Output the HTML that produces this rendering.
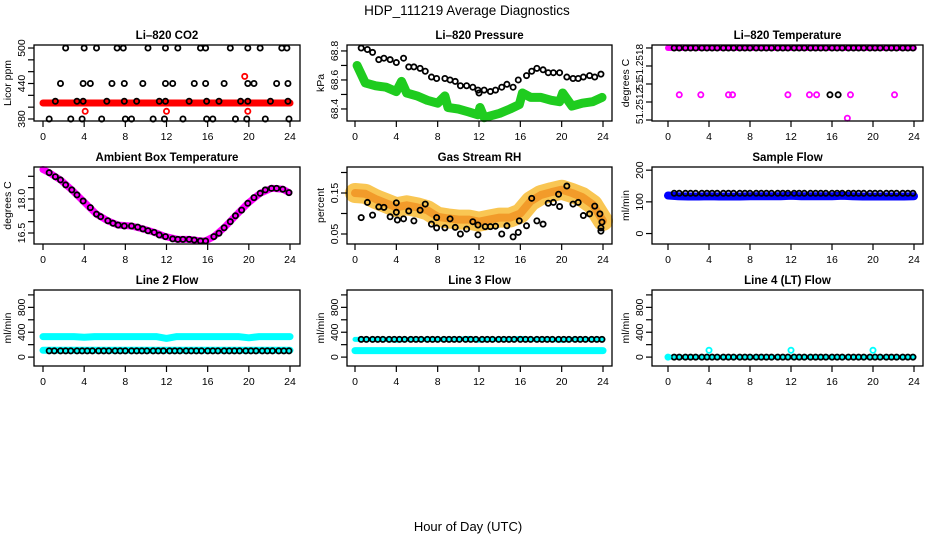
<!DOCTYPE html>
<html><head><meta charset="utf-8"><style>
html,body{margin:0;padding:0;background:#fff;}
svg{display:block;font-family:"Liberation Sans",Arial,sans-serif;}
</style></head><body>
<svg id="chart" width="936" height="540" viewBox="0 0 936 540" xmlns="http://www.w3.org/2000/svg">
<text x="467" y="15" text-anchor="middle" font-size="13.5">HDP_111219  Average Diagnostics</text>
<text x="468" y="531" text-anchor="middle" font-size="13">Hour of Day (UTC)</text>
</svg>
<script>
const xTicks = [0,4,8,12,16,20,24];
const sampleHours = [0.6,1.1,1.7,2.2,2.7,3.3,3.8,4.3,4.8,5.4,5.9,6.4,7.0,7.5,8.0,8.6,9.1,9.6,10.1,10.7,11.2,11.7,12.3,12.8,13.3,13.9,14.4,14.9,15.4,16.0,16.5,17.0,17.6,18.1,18.6,19.1,19.7,20.2,20.7,21.3,21.8,22.3,22.9,23.4,23.9];
const bandHours = [0,1,2,3,4,5,6,7,8,9,10,11,12,13,14,15,16,17,18,19,20,21,22,23,24];

// CO2
const co2Hours = [2.2,4.0,5.2,7.2,7.8,10.2,11.9,13.1,15.3,15.8,18.2,19.9,21.1,23.2,23.7, 1.7,3.9,4.6,6.7,7.9,9.7,11.9,12.6,14.7,15.8,17.6,19.9,20.5,22.7,23.8, 1.2,3.3,3.9,6.2,7.9,9.1,11.3,11.9,14.2,15.9,17.1,19.2,19.9,22.1,23.8, 0.6,2.7,3.8,5.7,8.0,8.6,10.7,11.8,13.6,15.9,16.5,18.7,19.8,21.6,23.9];
const co2Vals = [500,500,500,500,500,500,500,500,500,500,500,500,500,500,500, 440,440,440,440,440,440,440,440,440,440,440,440,440,440,440, 410,410,410,410,410,410,410,410,410,410,410,410,410,410,410, 380,380,380,380,380,380,380,380,380,380,380,380,380,380,380];
const co2BandVals = [407,407,407,407,407,407,407,407,407,407,407,407,407,407,407,407,407,407,407,407,407,407,407,407,407];
const co2OutHours = [4.1,12.0,19.6,19.9];
const co2OutVals = [393,393,452,393];

// Pressure
const presHours = [0.6,1.2,1.7,2.3,2.8,3.4,4.0,4.7,5.2,5.7,6.3,6.8,7.4,7.9,8.7,9.2,9.7,10.2,10.8,11.4,11.9,12.0,12.5,13.1,13.6,14.2,14.7,15.3,15.8,16.6,17.1,17.6,18.2,18.7,19.2,19.8,20.5,21.1,21.6,22.1,22.7,23.2,23.8];
const presVals = [68.82,68.81,68.79,68.74,68.75,68.74,68.72,68.75,68.69,68.69,68.68,68.66,68.62,68.61,68.61,68.60,68.59,68.56,68.56,68.55,68.53,68.51,68.53,68.52,68.53,68.55,68.57,68.55,68.60,68.63,68.66,68.68,68.67,68.65,68.65,68.65,68.62,68.61,68.61,68.62,68.63,68.62,68.64];
const presBandHours = [0.2,1,2,3,4,4.5,5,6,7,8,8.7,9,10,11,11.9,12.1,12.5,13,14,15,15.9,16.2,17,18,19,19.8,20.1,21,22,23,23.9];
const presBandVals = [68.70,68.58,68.56,68.55,68.52,68.59,68.51,68.49,68.46,68.44,68.49,68.41,68.40,68.38,68.36,68.41,68.34,68.35,68.37,68.40,68.43,68.51,68.48,68.48,68.46,68.45,68.51,68.42,68.44,68.45,68.48];

// Li-820 Temperature
const tempTopVals = [51.2520,51.2520,51.2520,51.2520,51.2520,51.2520,51.2520,51.2520,51.2520,51.2520,51.2520,51.2520,51.2520,51.2520,51.2520,51.2520,51.2520,51.2520,51.2520,51.2520,51.2520,51.2520,51.2520,51.2520,51.2520,51.2520,51.2520,51.2520,51.2520,51.2520,51.2520,51.2520,51.2520,51.2520,51.2520,51.2520,51.2520,51.2520,51.2520,51.2520,51.2520,51.2520,51.2520,51.2520,51.2520];
const tempOutHours = [1.1,3.2,5.9,6.3,11.7,13.8,14.5,17.8,22.1,17.5];
const tempOutVals = [51.25148,51.25148,51.25148,51.25148,51.25148,51.25148,51.25148,51.25148,51.25148,51.25122];
const tempBlackOutHours = [15.8,16.6];
const tempBlackOutVals = [51.25148,51.25148];

// Ambient box temperature
const ambHours = [0.6,1.2,1.7,2.2,2.8,3.3,3.9,4.6,5.2,5.6,6.3,6.8,7.3,7.9,8.6,9.2,9.7,10.2,10.8,11.3,11.9,12.6,13.1,13.6,14.2,14.7,15.3,15.8,16.6,17.1,17.6,18.2,18.7,19.3,19.9,20.5,21.1,21.6,22.2,22.7,23.3,23.9];
const ambVals = [19.16,18.98,18.84,18.62,18.40,18.18,17.91,17.62,17.33,17.22,17.04,16.93,16.85,16.81,16.81,16.76,16.68,16.60,16.53,16.41,16.34,16.24,16.22,16.22,16.22,16.19,16.15,16.15,16.34,16.49,16.73,17.00,17.26,17.51,17.81,18.06,18.25,18.40,18.47,18.47,18.43,18.28];
const ambBandHours = [0.0,0.6,1.7,2.8,3.9,5.2,6.3,7.3,8.6,9.7,10.8,11.9,13.1,14.2,15.3,15.8,16.6,17.6,18.7,19.9,21.1,22.2,23.3,23.9];
const ambBandVals = [19.30,19.16,18.84,18.40,17.91,17.33,17.04,16.85,16.81,16.68,16.53,16.34,16.22,16.22,16.15,16.15,16.34,16.73,17.26,17.81,18.25,18.47,18.43,18.28];

// Gas stream RH
const rhHours = [0.6,1.2,1.7,2.3,2.8,3.4,4.0,4.0,4.1,4.7,5.2,5.7,6.3,6.8,7.4,7.9,7.9,8.7,9.2,9.7,10.2,10.8,11.4,11.9,11.9,12.6,13.1,13.6,14.2,14.7,15.3,15.8,15.9,16.6,17.1,17.6,18.2,18.7,19.2,19.7,19.8,20.5,21.1,21.6,22.1,22.7,23.2,23.7,23.8,23.8,23.9];
const rhVals = [0.090,0.127,0.096,0.116,0.115,0.092,0.126,0.103,0.084,0.087,0.106,0.082,0.108,0.123,0.074,0.090,0.065,0.065,0.087,0.066,0.050,0.062,0.080,0.072,0.048,0.068,0.068,0.069,0.050,0.070,0.043,0.054,0.082,0.070,0.137,0.082,0.074,0.125,0.127,0.147,0.117,0.167,0.123,0.127,0.095,0.099,0.118,0.099,0.065,0.057,0.079];
const rhBandVals = [0.150,0.148,0.135,0.125,0.115,0.120,0.115,0.108,0.092,0.088,0.085,0.085,0.080,0.085,0.090,0.090,0.100,0.130,0.145,0.152,0.158,0.150,0.140,0.122,0.082];

// Sample flow
const sampleBlackVals = [127,127,127,127,127,127,127,127,127,127,127,127,127,127,127,127,127,127,127,127,127,127,127,127,127,127,127,127,127,127,127,127,127,127,127,127,127,127,127,127,127,127,127,127,127];
const sampleBandVals = [120,118,117,117,118,117,117,117,118,118,118,118,119,118,118,118,118,119,118,117,117,117,117,117,118];

// Line flows
const line2CyanHigh = [330,330,330,330,320,330,330,330,330,330,330,330,300,330,330,330,330,330,330,330,310,330,330,330,330];
const line2CyanLow = [110,110,110,110,110,110,110,110,110,110,110,110,110,110,110,110,110,110,110,110,110,110,110,110,110];
const line2BlackVals = [100,100,100,100,100,100,100,100,100,100,100,100,100,100,100,100,100,100,100,100,100,100,100,100,100,100,100,100,100,100,100,100,100,100,100,100,100,100,100,100,100,100,100,100,100];
const line3CyanHigh = [285,285,285,285,270,285,285,285,285,285,285,300,270,285,285,285,300,285,285,285,270,285,285,285,285];
const line3CyanLow = [105,105,105,105,105,105,105,105,105,105,105,105,105,105,105,105,105,105,105,105,105,105,105,105,105];
const line3BlackVals = [285,285,285,285,285,285,285,285,285,285,285,285,285,285,285,285,285,285,285,285,285,285,285,285,285,285,285,285,285,285,285,285,285,285,285,285,285,285,285,285,285,285,285,285,285];
const line4BlackVals = [0,0,0,0,0,0,0,0,0,0,0,0,0,0,0,0,0,0,0,0,0,0,0,0,0,0,0,0,0,0,0,0,0,0,0,0,0,0,0,0,0,0,0,0,0];
const line4CyanVals = [0,0,0,0,0,0,0,0,0,0,0,0,0,0,0,0,0,0,0,0,0,0,0,0,0];
const line4OutHours = [0.0,4.0,12.0,20.0];
const line4OutVals = [0,110,110,110];

const svg = document.getElementById('chart');
const NS = 'http://www.w3.org/2000/svg';
function mk(tag, attrs, parent){
  const e = document.createElementNS(NS, tag);
  for (const k in attrs) e.setAttribute(k, attrs[k]);
  (parent||svg).appendChild(e);
  return e;
}

function panel(p){
  const g = mk('g', {});
  
  
  const sx = h => p.x0 + (h/24)*(p.x24 - p.x0);
  const sy = v => p.bottom - (v - p.ymin)/(p.ymax - p.ymin)*(p.bottom - p.top);
  const t = mk('text', {x:(p.left+p.right)/2, y:p.top-6, 'text-anchor':'middle', 'font-size':'11.5', 'font-weight':'bold'}, g);
  t.textContent = p.title;
  
  
  const plot = mk('g', {}, g);
  
  
  const box = mk('rect', {x:p.left, y:p.top, width:p.right-p.left, height:p.bottom-p.top, fill:'none', stroke:'#000', 'stroke-width':1.3}, g);
  
  
  const xa = mk('g', {}, g);
  
  
  xTicks.forEach(v => {
    mk('line', {x1:sx(v), x2:sx(v), y1:p.bottom, y2:p.bottom+6, stroke:'#000', 'stroke-width':1.2}, xa);
    const l = mk('text', {x:sx(v), y:p.bottom+19, 'text-anchor':'middle', 'font-size':'10.5'}, xa);
    l.textContent = v;
    
    
  });
  const ya = mk('g', {}, g);
  
  
  p.yticks.forEach(v => {
    mk('line', {x1:p.left-6, x2:p.left, y1:sy(v), y2:sy(v), stroke:'#000', 'stroke-width':1.2}, ya);
  });
  p.ylabels.forEach((v,i) => {
    const yy = p.ylabelPos ? p.ylabelPos[i] : sy(v);
    const lx = p.left - 9;
    const l = mk('text', {x:lx, y:yy, 'text-anchor':'middle', 'font-size':p.ylabelSize||'10.5', transform:`rotate(-90 ${lx} ${yy})`}, ya);
    l.textContent = p.ylabelText ? p.ylabelText[i] : v;
    
    
  });
  const ly = (p.top+p.bottom)/2, lx = p.left - 23;
  const yl = mk('text', {x:lx, y:ly, 'text-anchor':'middle', 'font-size':'10.5', transform:`rotate(-90 ${lx} ${ly})`}, g);
  yl.textContent = p.ylabel;
  
  
  return {sx, sy, plot};
}

function band(P, hours, vals, color, width, name, opacity){
  const pts = hours.map((h,i) => P.sx(h).toFixed(1)+','+P.sy(vals[i]).toFixed(1)).join(' ');
  const e = mk('polyline', {points:pts, fill:'none', stroke:color, 'stroke-width':width, 'stroke-linejoin':'round', 'stroke-linecap':'round', 'stroke-opacity':opacity||1}, P.plot);
  
  
}
function points(P, hours, vals, color, name, r, sw){
  const g = mk('g', {}, P.plot);
  
  
  hours.forEach((h,i) => {
    const c = mk('circle', {cx:P.sx(h), cy:P.sy(vals[i]), r:r||2.6, fill:'none', stroke:color, 'stroke-width':sw||1.8}, g);
    
    
  });
}

const C1 = {left:34, right:300, x0:43, x24:290};
const C2 = {left:347, right:612, x0:355, x24:603};
const C3 = {left:652, right:923, x0:668, x24:914};
const R1 = {top:45, bottom:121}, R2 = {top:167, bottom:244}, R3 = {top:290, bottom:366};

let P = panel({...C1, ...R1, name:'co2', title:'Li\u2013820 CO2', ylabel:'Licor ppm', ymin:376.6, ymax:505.1, yticks:[380,400,420,440,460,480,500], ylabels:[380,440,500]});
band(P, bandHours, co2BandVals, '#ff0000', 7, 'co2-red-series');
points(P, co2Hours, co2Vals, '#000', 'co2-black-series');
points(P, co2OutHours, co2OutVals, '#ff0000', 'co2-red-outliers');

P = panel({...C2, ...R1, name:'pressure', title:'Li\u2013820 Pressure', ylabel:'kPa', ymin:68.317, ymax:68.841, yticks:[68.4,68.5,68.6,68.7,68.8], ylabels:[68.4,68.6,68.8], ylabelText:['68.4','68.6','68.8']});
band(P, presBandHours, presBandVals, '#1fcc1f', 9, 'pressure-green-series');
points(P, presHours, presVals, '#000', 'pressure-black-series');

P = panel({...C3, ...R1, name:'li820-temp', title:'Li\u2013820 Temperature', ylabel:'degrees C', ymin:51.251189, ymax:51.252033, yticks:[51.2512,51.2514,51.2516,51.2518,51.2520], ylabels:[51.2518,51.2516,51.2512], ylabelPos:[62,84,106], ylabelText:['51.2518','51','51.2512'], ylabelSize:'10'});
band(P, bandHours, bandHours.map(()=>51.2520), '#ff00ff', 6, 'li820-temp-magenta-series');
points(P, sampleHours, tempTopVals, '#000', 'li820-temp-black-series');
points(P, tempOutHours, tempOutVals, '#ff00ff', 'li820-temp-magenta-outliers');
points(P, tempBlackOutHours, tempBlackOutVals, '#000', 'li820-temp-black-outliers');

P = panel({...C1, ...R2, name:'ambient-temp', title:'Ambient Box Temperature', ylabel:'degrees C', ymin:16.015, ymax:19.41, yticks:[16.5,17.0,17.5,18.0,18.5,19.0], ylabels:[16.5,18.0], ylabelText:['16.5','18.0']});
band(P, ambBandHours, ambBandVals, '#ff00ff', 7, 'ambient-magenta-series');
points(P, ambHours, ambVals, '#000', 'ambient-black-series');

P = panel({...C2, ...R2, name:'rh', title:'Gas Stream RH', ylabel:'percent', ymin:0.0256, ymax:0.2134, yticks:[0.05,0.10,0.15,0.20], ylabels:[0.05,0.15], ylabelText:['0.05','0.15']});
band(P, bandHours, rhBandVals, '#f8c040', 20, 'rh-orange-series', 0.9);
band(P, bandHours, rhBandVals, '#f09020', 8, 'rh-orange-core', 0.8);
points(P, rhHours, rhVals, '#000', 'rh-black-series');

P = panel({...C3, ...R2, name:'sample-flow', title:'Sample Flow', ylabel:'ml/min', ymin:-33, ymax:210, yticks:[0,100,200], ylabels:[0,100,200]});
band(P, bandHours, sampleBandVals, '#0000ff', 8, 'sample-flow-blue-series');
points(P, sampleHours, sampleBlackVals, '#000', 'sample-flow-black-series');

P = panel({...C1, ...R3, name:'line2-flow', title:'Line 2 Flow', ylabel:'ml/min', ymin:-143, ymax:1079, yticks:[0,200,400,600,800,1000], ylabels:[0,400,800]});
band(P, bandHours, line2CyanHigh, '#00ffff', 7, 'line2-cyan-high');
band(P, bandHours, line2CyanLow, '#00ffff', 7, 'line2-cyan-low');
points(P, sampleHours, line2BlackVals, '#000', 'line2-black-series');

P = panel({...C2, ...R3, name:'line3-flow', title:'Line 3 Flow', ylabel:'ml/min', ymin:-143, ymax:1079, yticks:[0,200,400,600,800,1000], ylabels:[0,400,800]});
band(P, bandHours, line3CyanHigh, '#00ffff', 5, 'line3-cyan-high');
band(P, bandHours, line3CyanLow, '#00ffff', 7, 'line3-cyan-low');
points(P, sampleHours, line3BlackVals, '#000', 'line3-black-series');

P = panel({...C3, ...R3, name:'line4-flow', title:'Line 4 (LT) Flow', ylabel:'ml/min', ymin:-143, ymax:1079, yticks:[0,200,400,600,800,1000], ylabels:[0,400,800]});
band(P, bandHours, line4CyanVals, '#00ffff', 5, 'line4-cyan-series');
points(P, sampleHours, line4BlackVals, '#000', 'line4-black-series');
points(P, line4OutHours, line4OutVals, '#00ffff', 'line4-cyan-outliers');
</script>
</body></html>
